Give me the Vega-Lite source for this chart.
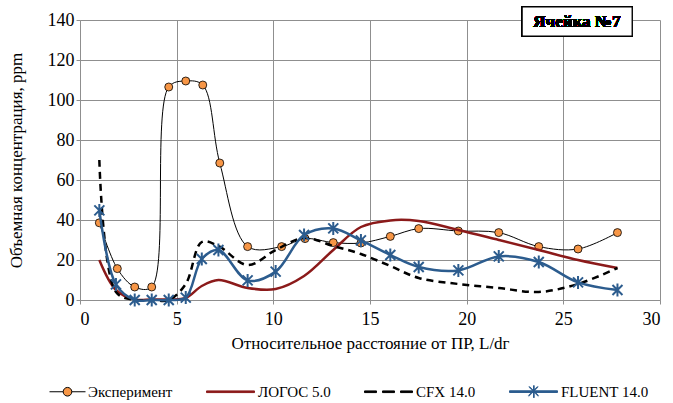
{
  "$schema": "https://vega.github.io/schema/vega-lite/v6.json",
  "width": 580,
  "height": 280,
  "autosize": "none",
  "padding": {"left": 80, "top": 20, "right": 13, "bottom": 103},
  "background": "white",
  "config": {
    "view": {"stroke": null},
    "font": "Liberation Serif",
    "axis": {
      "labelFont": "Liberation Serif",
      "titleFont": "Liberation Serif",
      "labelFontSize": 18,
      "titleFontSize": 17,
      "titleFontWeight": "normal",
      "labelColor": "black",
      "titleColor": "black",
      "gridColor": "#8f8f8f",
      "domainColor": "#8f8f8f",
      "tickColor": "#8f8f8f",
      "tickSize": 4
    }
  },
  "datasets": {
    "d": [
      {"series": "Эксперимент", "x": 1.0, "y": 38.6},
      {"series": "Эксперимент", "x": 1.93, "y": 15.7},
      {"series": "Эксперимент", "x": 2.83, "y": 6.5},
      {"series": "Эксперимент", "x": 3.71, "y": 6.5},
      {"series": "Эксперимент", "x": 4.59, "y": 106.5},
      {"series": "Эксперимент", "x": 5.47, "y": 109.5},
      {"series": "Эксперимент", "x": 6.35, "y": 107.5},
      {"series": "Эксперимент", "x": 7.23, "y": 68.5},
      {"series": "Эксперимент", "x": 8.67, "y": 26.7},
      {"series": "Эксперимент", "x": 10.43, "y": 26.7},
      {"series": "Эксперимент", "x": 11.64, "y": 30.7},
      {"series": "Эксперимент", "x": 13.1, "y": 28.7},
      {"series": "Эксперимент", "x": 14.53, "y": 28.5},
      {"series": "Эксперимент", "x": 16.05, "y": 31.8},
      {"series": "Эксперимент", "x": 17.52, "y": 35.7},
      {"series": "Эксперимент", "x": 19.57, "y": 34.5},
      {"series": "Эксперимент", "x": 21.66, "y": 33.7},
      {"series": "Эксперимент", "x": 23.73, "y": 26.7},
      {"series": "Эксперимент", "x": 25.76, "y": 25.5},
      {"series": "Эксперимент", "x": 27.8, "y": 33.7},
      {"series": "ЛОГОС 5.0", "x": 1.0, "y": 20},
      {"series": "ЛОГОС 5.0", "x": 1.86, "y": 5},
      {"series": "ЛОГОС 5.0", "x": 2.83, "y": 0.3},
      {"series": "ЛОГОС 5.0", "x": 3.71, "y": 0.3},
      {"series": "ЛОГОС 5.0", "x": 4.59, "y": 0.3},
      {"series": "ЛОГОС 5.0", "x": 5.47, "y": 1},
      {"series": "ЛОГОС 5.0", "x": 6.3, "y": 7},
      {"series": "ЛОГОС 5.0", "x": 7.16, "y": 10},
      {"series": "ЛОГОС 5.0", "x": 8.67, "y": 6},
      {"series": "ЛОГОС 5.0", "x": 10.12, "y": 5.5},
      {"series": "ЛОГОС 5.0", "x": 11.59, "y": 12},
      {"series": "ЛОГОС 5.0", "x": 13.1, "y": 25},
      {"series": "ЛОГОС 5.0", "x": 14.53, "y": 36.5},
      {"series": "ЛОГОС 5.0", "x": 16.05, "y": 39.8},
      {"series": "ЛОГОС 5.0", "x": 17.52, "y": 39.5},
      {"series": "ЛОГОС 5.0", "x": 19.57, "y": 35},
      {"series": "ЛОГОС 5.0", "x": 21.66, "y": 30},
      {"series": "ЛОГОС 5.0", "x": 23.73, "y": 25},
      {"series": "ЛОГОС 5.0", "x": 25.76, "y": 20},
      {"series": "ЛОГОС 5.0", "x": 27.8, "y": 16},
      {"series": "CFX 14.0", "x": 1.0, "y": 70},
      {"series": "CFX 14.0", "x": 1.86, "y": 4},
      {"series": "CFX 14.0", "x": 2.83, "y": 0},
      {"series": "CFX 14.0", "x": 3.71, "y": 0},
      {"series": "CFX 14.0", "x": 4.59, "y": 0},
      {"series": "CFX 14.0", "x": 5.47, "y": 8},
      {"series": "CFX 14.0", "x": 6.3, "y": 29},
      {"series": "CFX 14.0", "x": 7.16, "y": 27},
      {"series": "CFX 14.0", "x": 8.67, "y": 17.5},
      {"series": "CFX 14.0", "x": 10.12, "y": 25},
      {"series": "CFX 14.0", "x": 11.59, "y": 31},
      {"series": "CFX 14.0", "x": 13.1, "y": 27},
      {"series": "CFX 14.0", "x": 14.53, "y": 23},
      {"series": "CFX 14.0", "x": 16.05, "y": 17},
      {"series": "CFX 14.0", "x": 17.52, "y": 11},
      {"series": "CFX 14.0", "x": 19.57, "y": 8},
      {"series": "CFX 14.0", "x": 21.66, "y": 6},
      {"series": "CFX 14.0", "x": 23.73, "y": 4},
      {"series": "CFX 14.0", "x": 25.76, "y": 8},
      {"series": "CFX 14.0", "x": 27.8, "y": 16},
      {"series": "FLUENT 14.0", "x": 1.0, "y": 44.8},
      {"series": "FLUENT 14.0", "x": 1.86, "y": 7.8},
      {"series": "FLUENT 14.0", "x": 2.83, "y": 0},
      {"series": "FLUENT 14.0", "x": 3.71, "y": 0},
      {"series": "FLUENT 14.0", "x": 4.59, "y": 0},
      {"series": "FLUENT 14.0", "x": 5.47, "y": 1.2},
      {"series": "FLUENT 14.0", "x": 6.3, "y": 20.5},
      {"series": "FLUENT 14.0", "x": 7.16, "y": 25},
      {"series": "FLUENT 14.0", "x": 8.67, "y": 9.8},
      {"series": "FLUENT 14.0", "x": 10.12, "y": 14.2},
      {"series": "FLUENT 14.0", "x": 11.59, "y": 32.5},
      {"series": "FLUENT 14.0", "x": 13.1, "y": 35.8},
      {"series": "FLUENT 14.0", "x": 14.53, "y": 29.8},
      {"series": "FLUENT 14.0", "x": 16.05, "y": 22.5},
      {"series": "FLUENT 14.0", "x": 17.52, "y": 16.5},
      {"series": "FLUENT 14.0", "x": 19.57, "y": 14.8},
      {"series": "FLUENT 14.0", "x": 21.66, "y": 21.8},
      {"series": "FLUENT 14.0", "x": 23.73, "y": 19},
      {"series": "FLUENT 14.0", "x": 25.76, "y": 8.8},
      {"series": "FLUENT 14.0", "x": 27.8, "y": 5}
    ]
  },
  "data": {"name": "d"},
  "encoding": {
    "x": {
      "field": "x", "type": "quantitative",
      "scale": {"domain": [0, 30], "nice": false},
      "axis": {"values": [0, 5, 10, 15, 20, 25, 30], "title": "Относительное расстояние от ПР, L/dг", "labelPadding": 6, "titlePadding": 7, "grid": true}
    },
    "y": {
      "field": "y", "type": "quantitative",
      "scale": {"domain": [0, 140], "nice": false},
      "axis": {"values": [0, 20, 40, 60, 80, 100, 120, 140], "title": "Объемная концентрация, ppm", "labelPadding": 2, "titlePadding": 22, "grid": true}
    }
  },
  "layer": [
    {
      "transform": [{"filter": "datum.series === 'Эксперимент'"}],
      "mark": {"type": "line", "interpolate": "catmull-rom", "strokeWidth": 1},
      "encoding": {
        "color": {
          "field": "series", "type": "nominal",
          "scale": {"domain": ["Эксперимент", "ЛОГОС 5.0", "CFX 14.0", "FLUENT 14.0"], "range": ["#000000", "#8B1A1A", "#000000", "#2C5C8E"]},
          "legend": {
            "title": null, "orient": "none", "legendX": -31, "legendY": 347, "direction": "horizontal", "columns": 4,
            "symbolSize": 2304, "symbolStrokeWidth": 1, "labelFont": "Liberation Serif", "labelFontSize": 15, "labelColor": "black",
            "labelOffset": 3, "columnPadding": 31, "labelLimit": 200,
            "encode": {
              "symbols": {"update": {
                "shape": {"signal": "datum.value === 'Эксперимент' ? 'M-1,0L-0.43,0M-0.07,0L0.5,0M-0.07,0A0.18,0.18,0,1,1,-0.43,0A0.18,0.18,0,1,1,-0.07,0Z' : datum.value === 'CFX 14.0' ? 'M-1,-0.035L-0.5,-0.035L-0.5,0.035L-1,0.035ZM-0.25,-0.035L0.25,-0.035L0.25,0.035L-0.25,0.035ZM0.5,-0.035L1,-0.035L1,0.035L0.5,0.035Z' : datum.value === 'FLUENT 14.0' ? 'M-1,-0.035L1,-0.035L1,0.035L-1,0.035ZM-0.2,-0.2L0.2,0.2M-0.2,0.2L0.2,-0.2M-0.17,-0.22L0.22,0.17M-0.22,0.17L0.17,-0.22M0,-0.26L0,0.26M0.03,-0.26L0.03,0.26' : 'M-1,-0.035L1,-0.035L1,0.035L-1,0.035Z'"},
                "fill": {"signal": "datum.value === 'Эксперимент' ? '#F79646' : datum.value === 'ЛОГОС 5.0' ? '#8B1A1A' : datum.value === 'FLUENT 14.0' ? '#2C5C8E' : '#000000'"},
                "size": {"value": 2304},
                "strokeWidth": {"value": 1},
                "opacity": {"value": 1}
              }},
              "labels": {"update": {"dx": {"signal": "datum.value === 'Эксперимент' ? -13 : 0"}}}
            }
          }
        }
      }
    },
    {
      "transform": [{"filter": "datum.series === 'Эксперимент'"}],
      "mark": {"type": "point", "shape": "circle", "filled": true, "size": 64, "fill": "#F79646", "stroke": "black", "strokeWidth": 0.8, "opacity": 1}
    },
    {
      "transform": [{"filter": "datum.series === 'ЛОГОС 5.0'"}],
      "mark": {"type": "line", "interpolate": "catmull-rom", "strokeWidth": 2.5},
      "encoding": {"color": {"field": "series", "type": "nominal"}}
    },
    {
      "transform": [{"filter": "datum.series === 'CFX 14.0'"}],
      "mark": {"type": "line", "interpolate": "catmull-rom", "strokeWidth": 2.5, "strokeDash": [7, 5]},
      "encoding": {"color": {"field": "series", "type": "nominal"}}
    },
    {
      "transform": [{"filter": "datum.series === 'FLUENT 14.0'"}],
      "mark": {"type": "line", "interpolate": "catmull-rom", "strokeWidth": 2.5},
      "encoding": {"color": {"field": "series", "type": "nominal"}}
    },
    {
      "transform": [{"filter": "datum.series === 'FLUENT 14.0'"}],
      "mark": {"type": "point", "shape": "M-1,-1L1,1M-1,1L1,-1M0,-1.3L0,1.3", "filled": false, "size": 100, "stroke": "#2C5C8E", "strokeWidth": 2, "opacity": 1}
    },
    {
      "mark": {"type": "rect", "fill": "white", "stroke": "black", "strokeWidth": 1.2, "clip": false},
      "encoding": {
        "x": {"datum": 22.87, "type": "quantitative"},
        "x2": {"datum": 28.56},
        "y": {"datum": 132, "type": "quantitative"},
        "y2": {"datum": 146.5}
      }
    },
    {
      "mark": {"type": "text", "text": "Ячейка №7", "font": "Liberation Serif", "fontSize": 17, "fontWeight": "bold", "fill": "black", "align": "center", "baseline": "middle"},
      "encoding": {
        "x": {"datum": 25.7, "type": "quantitative"},
        "y": {"datum": 139.25, "type": "quantitative"}
      }
    }
  ]
}
